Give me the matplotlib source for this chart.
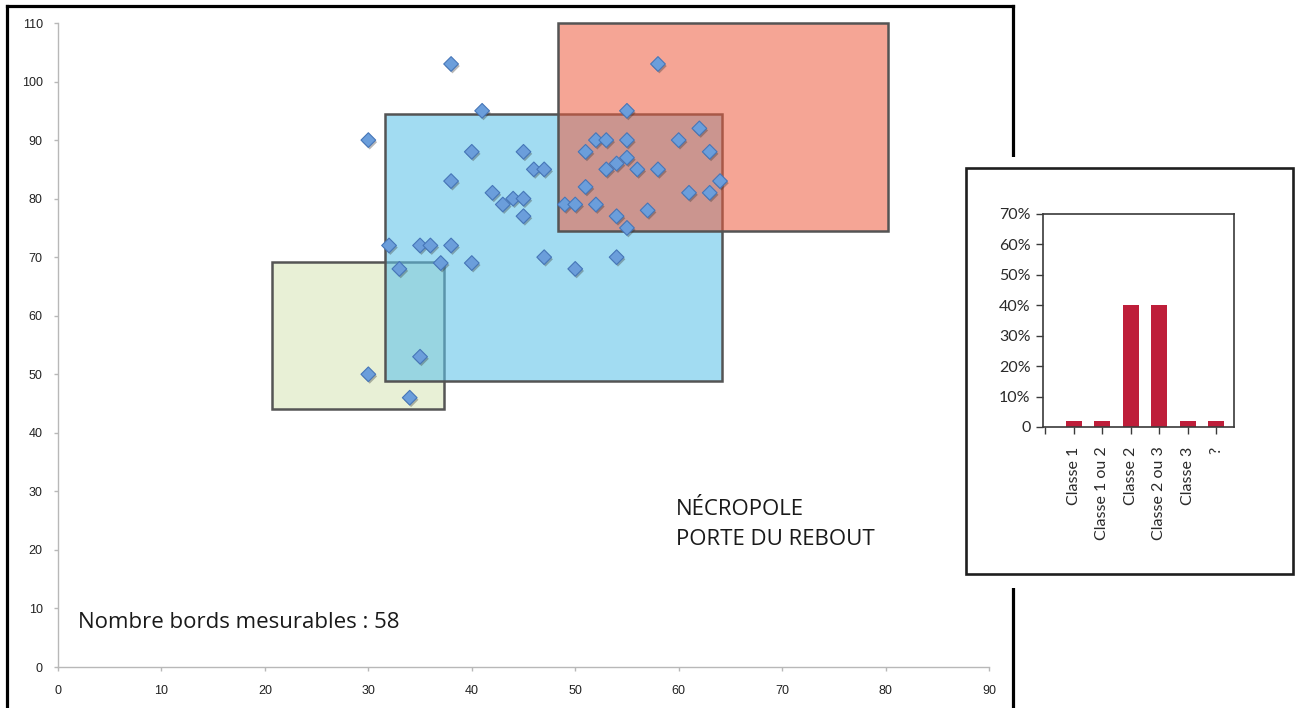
import matplotlib
matplotlib.use("Agg")
import matplotlib.pyplot as plt
from matplotlib.patches import Rectangle
from matplotlib.lines import Line2D
import matplotlib.patheffects as pe

# ---------------- data ----------------
x_vals = [38, 58, 41, 55, 30, 52, 53, 55, 60, 62, 40, 45, 51, 63, 46, 47, 53, 54,
          55, 56, 58, 38, 64, 42, 51, 61, 63, 44, 45, 43, 49, 50, 52, 45, 54, 57,
          55, 32, 35, 36, 38, 33, 37, 40, 47, 54, 50, 35, 30, 34]
y_vals = [103, 103, 95, 95, 90, 90, 90, 90, 90, 92, 88, 88, 88, 88, 85, 85, 85, 86,
          87, 85, 85, 83, 83, 81, 82, 81, 81, 80, 80, 79, 79, 79, 79, 77, 77, 78,
          75, 72, 72, 72, 72, 68, 69, 69, 70, 70, 68, 53, 50, 46]

# zones (x0, x1, y0, y1)
zone_green = [20.7, 37.3, 44.1, 69.1]
zone_blue = [31.6, 64.2, 48.8, 94.4]
zone_red = [48.3, 80.2, 74.5, 110.0]

x_ticks = list(range(0, 91, 10))
y_ticks = list(range(0, 111, 10))

label_count = "Nombre bords mesurables : 58"
label_site_1 = "NÉCROPOLE"
label_site_2 = "PORTE DU REBOUT"

inset_categories = ["Classe 1", "Classe 1 ou 2", "Classe 2", "Classe 2 ou 3", "Classe 3", "?"]
inset_values = [2, 2, 40, 40, 2, 2]
inset_yticks = [0, 10, 20, 30, 40, 50, 60, 70]
inset_yticklabels = ["0", "10%", "20%", "30%", "40%", "50%", "60%", "70%"]

# ---------------- figure ----------------
W, H = 1297, 708
fig = plt.figure(figsize=(W / 100, H / 100), dpi=100)
fig.patch.set_facecolor("white")

def fx(px):
    return px / W

def fy(py):
    return 1 - py / H

ax = fig.add_axes([fx(58), fy(667), fx(989) - fx(58), fy(23) - fy(667)])
ax.set_xlim(0, 90)
ax.set_ylim(0, 110)
ax.set_xticks(x_ticks)
ax.set_yticks(y_ticks)
for s in ["top", "right"]:
    ax.spines[s].set_visible(False)
for s in ["left", "bottom"]:
    ax.spines[s].set_color("#b8b8b8")
    ax.spines[s].set_linewidth(1.0)
ax.tick_params(axis="both", colors="#b8b8b8", labelcolor="#222222", length=3,
               width=1.0, labelsize=9)
ax.tick_params(axis="x", pad=10)
ax.tick_params(axis="y", pad=8)
for lab in ax.get_xticklabels() + ax.get_yticklabels():
    lab.set_family(["Liberation Sans", "DejaVu Sans"])

ax.add_patch(Rectangle((zone_green[0], zone_green[2]), zone_green[1] - zone_green[0],
                       zone_green[3] - zone_green[2], facecolor=(232/255, 240/255, 214/255),
                       edgecolor="#555555", linewidth=1.8, zorder=1, clip_on=False))
ax.add_patch(Rectangle((zone_blue[0], zone_blue[2]), zone_blue[1] - zone_blue[0],
                       zone_blue[3] - zone_blue[2], facecolor=(95/255, 195/255, 234/255, 0.58),
                       edgecolor=(0.33, 0.33, 0.33, 1.0), linewidth=1.8, zorder=2, clip_on=False))
ax.add_patch(Rectangle((zone_red[0], zone_red[2]), zone_red[1] - zone_red[0],
                       zone_red[3] - zone_red[2], facecolor=(238/255, 92/255, 62/255, 0.55),
                       edgecolor=(0.33, 0.33, 0.33, 1.0), linewidth=1.8, zorder=3, clip_on=False))

sc = ax.scatter(x_vals, y_vals, marker="D", s=56, facecolor="#6b9edb",
                edgecolor="#4676b8", linewidth=0.8, zorder=5, clip_on=False)
sc.set_path_effects([pe.SimplePatchShadow(offset=(1.0, -1.5), alpha=0.35, shadow_rgbFace="#333333"),
                     pe.Normal()])

txt_family = ["Open Sans", "DejaVu Sans"]
fig.text(fx(78), fy(628), label_count, fontsize=16, family=txt_family,
         color="#1a1a1a", va="baseline", ha="left")
fig.text(fx(676), fy(515), label_site_1, fontsize=16, family=txt_family,
         color="#1a1a1a", va="baseline", ha="left")
fig.text(fx(676), fy(545), label_site_2, fontsize=16, family=txt_family,
         color="#1a1a1a", va="baseline", ha="left")

# ---------------- frame ----------------
lw_frame = 2.3
fig.add_artist(Line2D([fx(7), fx(7)], [fy(6), fy(712)], color="black", lw=lw_frame,
                      transform=fig.transFigure, zorder=2, solid_capstyle="projecting"))
fig.add_artist(Line2D([fx(7), fx(1013)], [fy(6), fy(6)], color="black", lw=lw_frame,
                      transform=fig.transFigure, zorder=2, solid_capstyle="projecting"))
fig.add_artist(Line2D([fx(1013), fx(1013)], [fy(6), fy(712)], color="black", lw=lw_frame,
                      transform=fig.transFigure, zorder=2, solid_capstyle="projecting"))

# white gap around inset
fig.add_artist(Rectangle((fx(955), fy(588)), fx(1297) - fx(955), fy(157) - fy(588),
                         transform=fig.transFigure, facecolor="white", edgecolor="none",
                         zorder=3))
fig.add_artist(Rectangle((fx(966), fy(574)), fx(1293) - fx(966), fy(168) - fy(574),
                         transform=fig.transFigure, facecolor="white", edgecolor="#1e1e1e",
                         linewidth=1.9, zorder=4))

# ---------------- inset ----------------
inset_family = ["Lato", "DejaVu Sans"]
ax2 = fig.add_axes([fx(1043), fy(427), fx(1234) - fx(1043), fy(214) - fy(427)], zorder=6)
pos = list(range(len(inset_categories)))
ax2.bar(pos, inset_values, width=0.56, color="#be1e3a", zorder=2)
ax2.set_xlim(-1.08, 5.63)
ax2.set_ylim(0, 70)
ax2.set_yticks(inset_yticks)
ax2.set_yticklabels(inset_yticklabels)
ax2.set_xticks(pos)
ax2.set_xticklabels(inset_categories, rotation=90)
ax2.set_xticks([-1.0], minor=True)
for s in ax2.spines.values():
    s.set_color("#3a3a3a")
    s.set_linewidth(1.2)
ax2.tick_params(axis="both", which="both", colors="#3a3a3a", labelcolor="#2a2a2a",
                length=5, width=1.0, labelsize=11.5)
ax2.tick_params(axis="x", pad=9)
ax2.tick_params(axis="y", pad=4)
for lab in ax2.get_xticklabels() + ax2.get_yticklabels():
    lab.set_family(inset_family)

fig.savefig("out.png", dpi=100, facecolor="white")
